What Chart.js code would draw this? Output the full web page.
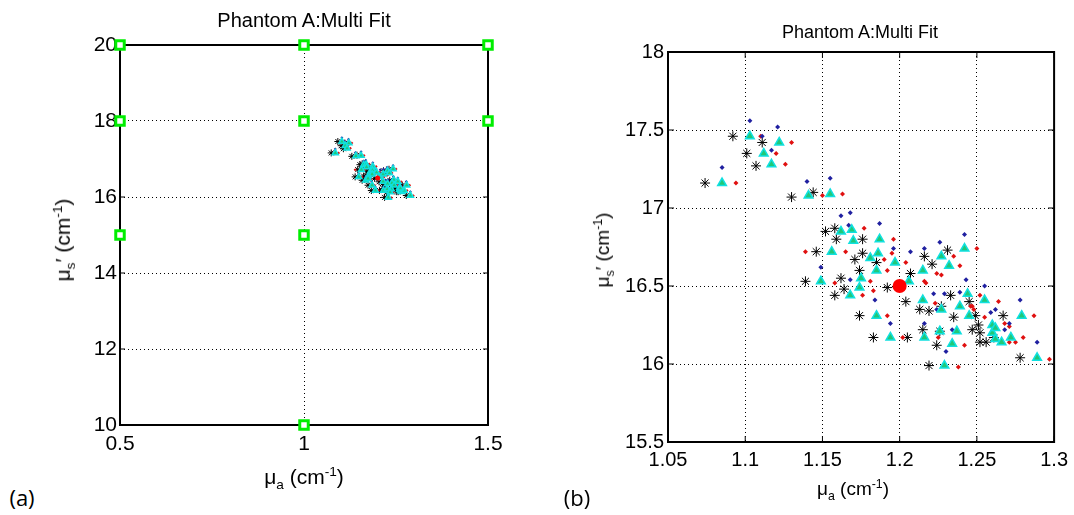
<!DOCTYPE html>
<html>
<head>
<meta charset="utf-8">
<script src="https://cdn.jsdelivr.net/npm/chart.js@4.4.1/dist/chart.umd.min.js"></script>
<style>
  body { margin: 0; background: #fff; }
  #page { position: relative; width: 1074px; height: 515px; overflow: hidden; font-family: "Liberation Sans", Arial, sans-serif; color: #000; }
  canvas { position: absolute; }
  .lbl { position: absolute; white-space: nowrap; }
  .lbl sub, .lbl sup { font-size: 0.65em; }
  .rot { transform: translate(-50%, -50%) rotate(-90deg); }
  .ctr { transform: translate(-50%, -50%); }
</style>
</head>
<body>
<div id="page">
  <canvas id="chart-a" width="540" height="470" style="left:0;top:0"></canvas>
  <canvas id="chart-b" width="534" height="487" style="left:540px;top:0"></canvas>

  <div class="lbl ctr" style="left:304px;top:20px;font-size:20px">Phantom A:Multi Fit</div>
  <div class="lbl ctr" style="left:304px;top:478px;font-size:21px">μ<sub>a</sub> (cm<sup>-1</sup>)</div>
  <div class="lbl rot" style="left:64px;top:240px;font-size:21px">μ<sub>s</sub>′ (cm<sup>-1</sup>)</div>
  <div class="lbl ctr" style="left:22px;top:497px;font-size:22px;font-family:'Open Sans',sans-serif">(a)</div>

  <div class="lbl ctr" style="left:860px;top:32px;font-size:18px">Phantom A:Multi Fit</div>
  <div class="lbl ctr" style="left:853px;top:490px;font-size:19px">μ<sub>a</sub> (cm<sup>-1</sup>)</div>
  <div class="lbl rot" style="left:604px;top:250px;font-size:19px">μ<sub>s</sub>′ (cm<sup>-1</sup>)</div>
  <div class="lbl ctr" style="left:577px;top:497px;font-size:22px;font-family:'Open Sans',sans-serif">(b)</div>
</div>

<script>
// starting grid for the fits (green squares, panel a)
var gridX = [0.5, 1, 1.5, 0.5, 1, 1.5, 0.5, 1, 1];
var gridY = [20, 20, 20, 18, 18, 18, 15, 15, 10];

// true value
var trueX = [1.2];
var trueY = [16.5];

// fit results, cyan triangles
var triX = [1.103, 1.122, 1.112, 1.117, 1.085, 1.141, 1.155, 1.162, 1.169, 1.170, 1.187, 1.156,
  1.181, 1.186, 1.197, 1.185, 1.175, 1.149, 1.168, 1.206, 1.215, 1.215, 1.174, 1.242, 1.227,
  1.232, 1.244, 1.255, 1.239, 1.185, 1.194, 1.216, 1.227, 1.245, 1.279, 1.226, 1.237, 1.234,
  1.260, 1.260, 1.262, 1.266, 1.272, 1.289, 1.229, 1.262];
var triY = [17.46, 17.42, 17.35, 17.28, 17.16, 17.08, 17.09, 16.85, 16.86, 16.79, 16.80, 16.72,
  16.68, 16.71, 16.65, 16.60, 16.55, 16.53, 16.44, 16.53, 16.60, 16.41, 16.49, 16.74, 16.69,
  16.63, 16.45, 16.41, 16.37, 16.31, 16.17, 16.17, 16.35, 16.31, 16.31, 16.21, 16.21, 16.13,
  16.25, 16.20, 16.16, 16.14, 16.17, 16.04, 15.99, 16.23];

// black asterisks
var starX = [1.092, 1.111, 1.101, 1.107, 1.074, 1.130, 1.144, 1.152, 1.158, 1.159, 1.176, 1.146,
  1.176, 1.171, 1.185, 1.174, 1.139, 1.162, 1.164, 1.158, 1.204, 1.192, 1.207, 1.216, 1.231,
  1.221, 1.233, 1.245, 1.227, 1.174, 1.183, 1.205, 1.213, 1.215, 1.219, 1.235, 1.249, 1.267,
  1.226, 1.247, 1.251, 1.252, 1.252, 1.256, 1.224, 1.278, 1.219, 1.261];
var starY = [17.46, 17.42, 17.35, 17.27, 17.16, 17.07, 17.10, 16.85, 16.87, 16.80, 16.80, 16.72,
  16.71, 16.67, 16.65, 16.60, 16.53, 16.55, 16.48, 16.44, 16.40, 16.49, 16.58, 16.69, 16.73,
  16.64, 16.44, 16.40, 16.37, 16.31, 16.17, 16.17, 16.35, 16.22, 16.34, 16.30, 16.31, 16.31,
  16.21, 16.22, 16.25, 16.20, 16.14, 16.14, 16.12, 16.04, 15.99, 16.17];

// blue dots
var blueX = [1.103, 1.121, 1.111, 1.117, 1.085, 1.140, 1.155, 1.162, 1.168, 1.187, 1.167, 1.196,
  1.149, 1.207, 1.216, 1.168, 1.184, 1.242, 1.226, 1.243, 1.255, 1.239, 1.278, 1.222, 1.229,
  1.194, 1.216, 1.234, 1.259, 1.262, 1.271, 1.268, 1.230, 1.289, 1.224];
var blueY = [17.56, 17.52, 17.46, 17.37, 17.26, 17.17, 17.19, 16.95, 16.97, 16.90, 16.89, 16.74,
  16.62, 16.72, 16.74, 16.54, 16.41, 16.83, 16.78, 16.54, 16.50, 16.46, 16.41, 16.45, 16.45,
  16.26, 16.26, 16.22, 16.33, 16.35, 16.26, 16.22, 16.08, 16.14, 16.35];

// red dots
var redX = [1.130, 1.120, 1.126, 1.094, 1.110, 1.150, 1.163, 1.139, 1.165, 1.177, 1.196, 1.195,
  1.190, 1.192, 1.181, 1.158, 1.183, 1.176, 1.204, 1.217, 1.250, 1.235, 1.239, 1.224, 1.227,
  1.252, 1.264, 1.246, 1.216, 1.192, 1.202, 1.223, 1.247, 1.248, 1.255, 1.287, 1.268, 1.271,
  1.280, 1.271, 1.275, 1.242, 1.225, 1.238, 1.297];
var redY = [17.42, 17.35, 17.28, 17.16, 17.46, 17.08, 17.09, 16.72, 16.72, 16.87, 16.80, 16.71,
  16.67, 16.60, 16.53, 16.52, 16.47, 16.44, 16.65, 16.52, 16.74, 16.69, 16.63, 16.58, 16.57,
  16.44, 16.40, 16.37, 16.53, 16.31, 16.17, 16.39, 16.37, 16.35, 16.30, 16.31, 16.26, 16.24,
  16.17, 16.14, 16.14, 16.12, 16.17, 15.98, 16.03];

function pts(xs, ys) {
  return xs.map(function (x, i) { return { x: x, y: ys[i] }; });
}

// box round the plot area with inward ticks, matlab style
var boxPlugin = {
  id: 'box',
  beforeDatasetsDraw: function (chart, args, opts) {
    var a = chart.chartArea, c = chart.ctx, t = opts.tick || 5;
    c.save();
    c.strokeStyle = '#000';
    c.lineWidth = opts.width || 1.5;
    c.strokeRect(a.left, a.top, a.right - a.left, a.bottom - a.top);
    c.lineWidth = 1;
    c.beginPath();
    chart.scales.x.ticks.forEach(function (tk) {
      var px = chart.scales.x.getPixelForValue(tk.value);
      c.moveTo(px, a.bottom); c.lineTo(px, a.bottom - t);
      c.moveTo(px, a.top); c.lineTo(px, a.top + t);
    });
    chart.scales.y.ticks.forEach(function (tk) {
      var py = chart.scales.y.getPixelForValue(tk.value);
      c.moveTo(a.left, py); c.lineTo(a.left + t, py);
      c.moveTo(a.right, py); c.lineTo(a.right - t, py);
    });
    c.stroke();
    c.restore();
  }
};

function scaleOpts(min, max, step, size, pad, fixed, fmt) {
  return {
    type: 'linear', min: min, max: max,
    afterFit: function (s) { if (s.axis === 'y') s.width = fixed; else s.height = fixed; },
    ticks: {
      stepSize: step, color: '#000', padding: pad,
      font: { family: '"Liberation Sans", Arial, sans-serif', size: size },
      callback: fmt
    },
    grid: { color: '#000', lineWidth: 1, drawTicks: false },
    border: { display: false, dash: [1, 3] }
  };
}

function fmt2(v) { return String(+v.toFixed(2)); }

function clusterSets(big) {
  return [
    { data: pts(trueX, trueY), pointStyle: 'circle', pointRadius: big ? 7 : 2.5,
      backgroundColor: '#ff0000', borderColor: '#ff0000', borderWidth: 0 },
    { data: pts(triX, triY), pointStyle: 'triangle', pointRadius: big ? 5 : 3.5,
      backgroundColor: '#20c878', borderColor: '#10e0e0', borderWidth: big ? 1.5 : 1.5 },
    { data: pts(blueX, blueY), pointStyle: 'rectRot', pointRadius: big ? 2.5 : 1.5,
      backgroundColor: '#2020a0', borderColor: '#2020a0', borderWidth: 0 },
    { data: pts(redX, redY), pointStyle: 'rectRot', pointRadius: big ? 2.5 : 1.5,
      backgroundColor: '#e01010', borderColor: '#e01010', borderWidth: 0 },
    { data: pts(starX, starY), pointStyle: 'star', pointRadius: big ? 5 : 3.5,
      backgroundColor: '#000', borderColor: '#000', borderWidth: 1 }
  ];
}

var common = {
  responsive: false,
  animation: false,
  devicePixelRatio: 1,
  events: [],
  plugins: { legend: { display: false }, tooltip: { enabled: false } }
};

// panel (a): whole search grid
var setsA = [{ data: pts(gridX, gridY), pointStyle: 'rect', pointRadius: 6,
  backgroundColor: '#fff', borderColor: '#00ee00', borderWidth: 3, clip: false }]
  .concat(clusterSets(false));

new Chart('chart-a', {
  type: 'scatter',
  data: { datasets: setsA },
  options: Object.assign({}, common, {
    layout: { padding: { top: 45, right: 52, left: 0, bottom: 0 } },
    scales: {
      x: scaleOpts(0.5, 1.5, 0.5, 21, 7, 45),
      y: scaleOpts(10, 20, 2, 21, 3, 120)
    },
    plugins: Object.assign({}, common.plugins, { box: { width: 2, tick: 5 } })
  }),
  plugins: [boxPlugin]
});

// panel (b): zoom on the fitted points
new Chart('chart-b', {
  type: 'scatter',
  data: { datasets: clusterSets(true) },
  options: Object.assign({}, common, {
    layout: { padding: { top: 52, right: 19, left: 0, bottom: 0 } },
    scales: {
      x: scaleOpts(1.05, 1.3, 0.05, 20, 6, 45, fmt2),
      y: scaleOpts(15.5, 18, 0.5, 20, 4, 128, fmt2)
    },
    plugins: Object.assign({}, common.plugins, { box: { width: 2, tick: 6 } })
  }),
  plugins: [boxPlugin]
});
</script>
</body>
</html>
